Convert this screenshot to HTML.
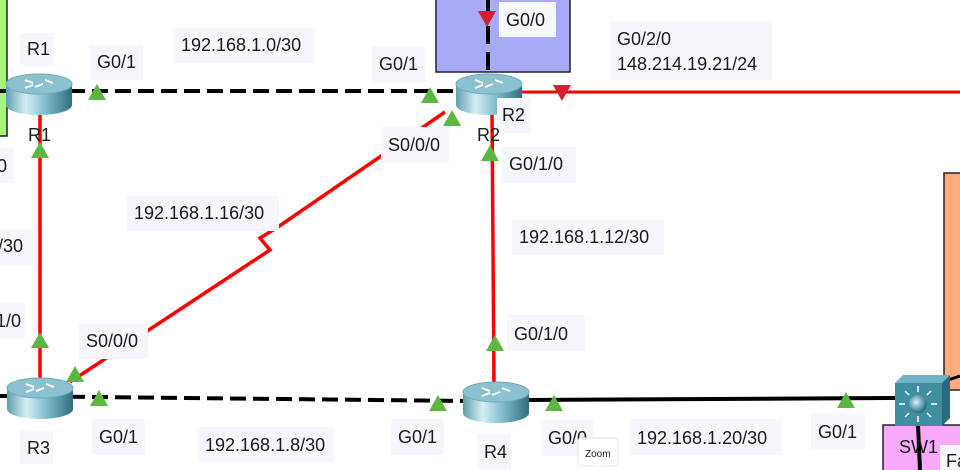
<!DOCTYPE html>
<html><head><meta charset="utf-8"><style>
html,body{margin:0;padding:0;background:#fff;width:960px;height:470px;overflow:hidden}
svg text{font-family:"Liberation Sans",sans-serif;font-size:18px;fill:#1a1a1a}
</style></head><body>
<svg width="960" height="470" viewBox="0 0 960 470" xmlns="http://www.w3.org/2000/svg">
<defs>
<linearGradient id="rg" x1="0" x2="1" y1="0" y2="0">
<stop offset="0" stop-color="#5f9fae"/><stop offset="0.3" stop-color="#d6eef3"/><stop offset="0.6" stop-color="#7fbccb"/><stop offset="1" stop-color="#2f6f80"/></linearGradient>
<radialGradient id="sg" cx="0.4" cy="0.4" r="0.6"><stop offset="0" stop-color="#d9f3f8"/><stop offset="1" stop-color="#1f6f82"/></radialGradient>
<g id="router">
<path d="M-33,-9 L-33,12 A33,10 0 0 0 33,12 L33,-9 Z" fill="url(#rg)"/>
<ellipse cx="0" cy="-9" rx="33" ry="10" fill="#8cc1cf" stroke="#6fa9b8" stroke-width="1"/>
<path d="M-14,-13 l8,3 M-4,-6 l8,-3 M6,-13 l8,3 M-14,-5 l8,-3" stroke="#fff" stroke-width="2" fill="none"/>
</g>
<polygon id="tri" points="0,-8 9,8 -9,8" fill="#5cb742"/>
<polygon id="tdn" points="-9,-8 9,-8 0,8" fill="#d2202f"/>
</defs>
<rect x="-5" y="-5" width="12" height="141" fill="#a6f57a" stroke="#222" stroke-width="1.5"/>
<rect x="436" y="-5" width="134" height="77" fill="#a9aaf5" stroke="#222" stroke-width="1.5"/>
<rect x="944" y="173" width="30" height="217" fill="#fdab7f" stroke="#222" stroke-width="1.5"/>
<rect x="883" y="425" width="90" height="60" fill="#f9a9f9" stroke="#222" stroke-width="1.5"/>
<line x1="0" y1="91" x2="460" y2="91" stroke="#000" stroke-width="4" stroke-dasharray="16,7"/>
<line x1="488" y1="0" x2="488" y2="76" stroke="#000" stroke-width="4" stroke-dasharray="18,8"/>
<line x1="520" y1="92" x2="960" y2="92" stroke="#f00" stroke-width="3"/>
<line x1="40" y1="110" x2="40" y2="382" stroke="#f00" stroke-width="3.5"/>
<line x1="492" y1="110" x2="494" y2="385" stroke="#f00" stroke-width="3.5"/>
<polyline points="70,382 270,250 260,238 278,227 445,112" fill="none" stroke="#f00" stroke-width="3.5"/>
<line x1="0" y1="396" x2="470" y2="401" stroke="#000" stroke-width="4" stroke-dasharray="16,7"/>
<line x1="525" y1="400" x2="895" y2="398" stroke="#000" stroke-width="4"/>
<line x1="948" y1="380" x2="960" y2="376" stroke="#000" stroke-width="3"/>
<line x1="918" y1="425" x2="920" y2="470" stroke="#000" stroke-width="4"/>
<use href="#router" x="39" y="93"/>
<use href="#router" x="489" y="93"/>
<use href="#router" x="40" y="397"/>
<use href="#router" x="496" y="401"/>
<polygon points="895,383 903,375 950,375 942,383" fill="#6fb3c4"/>
<polygon points="942,383 950,375 950,418 942,426" fill="#2a6a7b"/>
<rect x="895" y="383" width="47" height="43" fill="#3f8ea2"/>
<circle cx="918" cy="404" r="9" fill="url(#sg)"/>
<g stroke="#fff" stroke-width="1.5"><line x1="918" y1="386" x2="918" y2="392"/><line x1="918" y1="416" x2="918" y2="422"/><line x1="899" y1="404" x2="905" y2="404"/><line x1="931" y1="404" x2="937" y2="404"/><line x1="905" y1="391" x2="909" y2="395"/><line x1="927" y1="413" x2="931" y2="417"/><line x1="931" y1="391" x2="927" y2="395"/><line x1="905" y1="417" x2="909" y2="413"/></g>
<g fill="#f5f7fd">
<rect x="20" y="33" width="34" height="33"/><rect x="90" y="45" width="53" height="35"/>
<rect x="174" y="28" width="140" height="35"/><rect x="372" y="47" width="53" height="36"/>
<rect x="499" y="2" width="57" height="35"/><rect x="610" y="21" width="162" height="59"/>
<rect x="497" y="98" width="34" height="35"/><rect x="0" y="148" width="14" height="35"/>
<rect x="381" y="127" width="68" height="36"/><rect x="502" y="147" width="74" height="36"/>
<rect x="127" y="196" width="152" height="35"/><rect x="0" y="229" width="33" height="36"/>
<rect x="512" y="220" width="152" height="35"/><rect x="0" y="303" width="25" height="35"/>
<rect x="79" y="324" width="69" height="35"/><rect x="507" y="315" width="78" height="36"/>
<rect x="20" y="431" width="33" height="33"/><rect x="92" y="419" width="53" height="36"/>
<rect x="198" y="427" width="136" height="35"/><rect x="391" y="419" width="53" height="36"/>
<rect x="477" y="434" width="34" height="36"/><rect x="541" y="420" width="52" height="36"/>
<rect x="630" y="419" width="152" height="36"/><rect x="811" y="413" width="54" height="36"/>
<rect x="940" y="445" width="20" height="25"/>
</g>
<use href="#tri" x="97" y="92"/><use href="#tri" x="430" y="95"/><use href="#tri" x="452" y="118"/>
<use href="#tri" x="40" y="150"/><use href="#tri" x="40" y="340"/><use href="#tri" x="75" y="374"/>
<use href="#tri" x="99" y="398"/><use href="#tri" x="438" y="403"/><use href="#tri" x="490" y="153"/>
<use href="#tri" x="495" y="343"/><use href="#tri" x="554" y="403"/><use href="#tri" x="846" y="400"/>
<use href="#tdn" x="487" y="19"/><use href="#tdn" x="562" y="93"/>
<text x="27" y="55">R1</text><text x="97" y="68">G0/1</text>
<text x="181" y="51">192.168.1.0/30</text><text x="379" y="70">G0/1</text>
<text x="506" y="26">G0/0</text>
<text x="617" y="45">G0/2/0</text><text x="617" y="70">148.214.19.21/24</text>
<text x="28" y="141">R1</text><text x="502" y="121">R2</text><text x="477" y="141">R2</text>
<text x="-3" y="172">0</text><text x="388" y="151">S0/0/0</text><text x="509" y="170">G0/1/0</text>
<text x="134" y="219">192.168.1.16/30</text><text x="-2" y="252">/30</text>
<text x="519" y="243">192.168.1.12/30</text><text x="-4" y="327">1/0</text>
<text x="86" y="347">S0/0/0</text><text x="514" y="340">G0/1/0</text>
<text x="27" y="454">R3</text><text x="99" y="443">G0/1</text>
<text x="205" y="451">192.168.1.8/30</text><text x="398" y="443">G0/1</text>
<text x="484" y="458">R4</text><text x="548" y="444">G0/0</text>
<text x="637" y="444">192.168.1.20/30</text><text x="818" y="438">G0/1</text>
<text x="899" y="453">SW1</text><text x="946" y="467" font-size="20">Fa</text>
<rect x="578" y="438" width="40" height="28" rx="3" fill="#fff" stroke="#e4e4e4"/>
<polygon points="594,466 602,466 598,470" fill="#fff"/>
<text x="585" y="457" style="font-size:10px">Zoom</text>
</svg>
</body></html>
